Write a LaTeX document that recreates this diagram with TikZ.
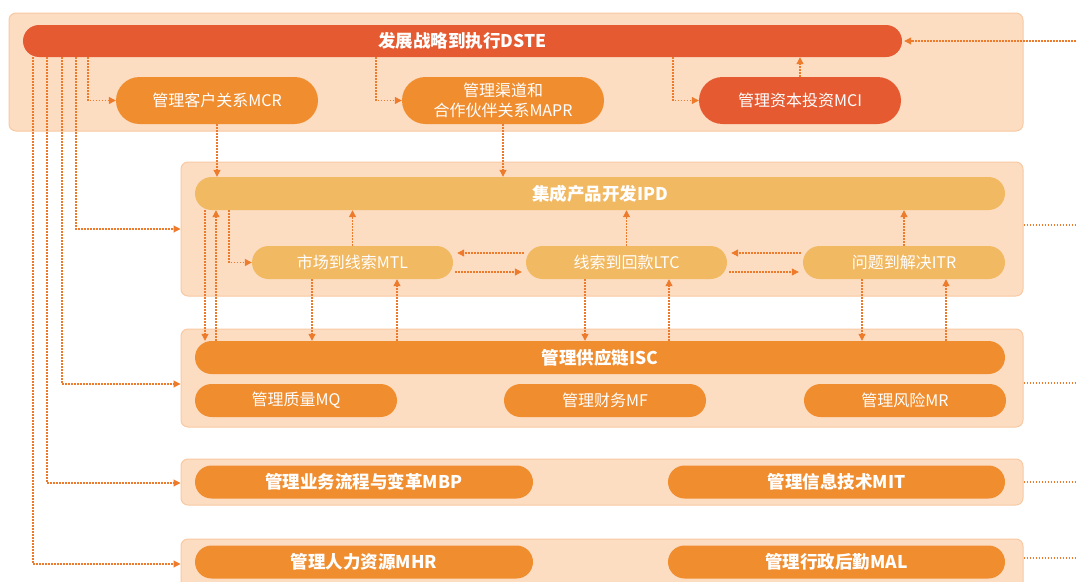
\documentclass[tikz,border=0pt]{standalone}
\usepackage{fontspec}
\setmainfont{Noto Sans CJK SC}
\usetikzlibrary{arrows.meta,calc}
\definecolor{grpfill}{HTML}{FCDDC2}
\definecolor{grpline}{HTML}{F8C9A2}
\definecolor{redC}{HTML}{E65A32}
\definecolor{orgC}{HTML}{F08D2F}
\definecolor{yelC}{HTML}{F2B963}
\definecolor{arrC}{HTML}{EE7B2C}
\begin{document}
\begin{tikzpicture}[x=1pt,y=-1pt,
  grp/.style={draw=grpline, fill=grpfill, line width=1pt, rounded corners=7pt, inner sep=0pt},
  pillbase/.style={inner sep=0pt, text=white, align=center},
  barB/.style={pillbase, font=\bfseries\fontsize{17.5}{20}\selectfont, minimum height=33pt, rounded corners=16.5pt},
  pillN/.style={pillbase, font=\fontsize{16}{19}\selectfont, minimum height=33pt, rounded corners=16.5pt},
  pillT/.style={pillbase, font=\fontsize{16}{20}\selectfont, minimum height=47pt, minimum width=202pt, rounded corners=23.5pt},
  conn/.style={draw=arrC, line width=1.1pt, dash pattern=on 1.6pt off 1.4pt, -{Triangle[length=7pt,width=7pt]}},
  side/.style={conn, shorten >=4pt, shorten <=2pt}]
\useasboundingbox (0,0) rectangle (1076,581);
\clip (0,0) rectangle (1076,581);

% group boxes
\node[grp, minimum width=1014pt, minimum height=118pt] (gtop) at (516,72) {};
\node[grp, minimum width=842pt, minimum height=134pt] (gipd) at (602,229) {};
\node[grp, minimum width=842pt, minimum height=98pt] (gisc) at (602,378) {};
\node[grp, minimum width=842pt, minimum height=46pt] (gmbp) at (602,482) {};
\node[grp, minimum width=842pt, minimum height=61pt] (gmhr) at (602,569.5) {};

% top row
\node[barB, fill=redC, minimum width=879pt, minimum height=32pt, rounded corners=16pt] (dste) at (462.5,41) {发展战略到执行DSTE};
\node[pillT, fill=orgC] (mcr) at (217,100.5) {管理客户关系MCR};
\node[pillT, fill=orgC] (mapr) at (503,100.5) {管理渠道和\\合作伙伴关系MAPR};
\node[pillT, fill=redC] (mci) at (800,100.5) {管理资本投资MCI};

% IPD group
\node[barB, fill=yelC, minimum width=810pt] (ipd) at (600,193.5) {集成产品开发IPD};
\node[pillN, fill=yelC, minimum width=201pt] (mtl) at (352.5,262.5) {市场到线索MTL};
\node[pillN, fill=yelC, minimum width=201pt] (ltc) at (626.5,262.5) {线索到回款LTC};
\node[pillN, fill=yelC, minimum width=202pt] (itr) at (904,262.5) {问题到解决ITR};

% ISC group
\node[barB, fill=orgC, minimum width=810pt] (isc) at (600,357.5) {管理供应链ISC};
\node[pillN, fill=orgC, minimum width=202pt] (mq) at (296,400.5) {管理质量MQ};
\node[pillN, fill=orgC, minimum width=202pt] (mf) at (605,400.5) {管理财务MF};
\node[pillN, fill=orgC, minimum width=202pt] (mr) at (905,400.5) {管理风险MR};

% MBP / MIT
\node[barB, fill=orgC, minimum width=338pt] (mbp) at (364,482) {管理业务流程与变革MBP};
\node[barB, fill=orgC, minimum width=337pt] (mit) at (836.5,482) {管理信息技术MIT};
% MHR / MAL
\node[barB, fill=orgC, minimum width=338pt] (mhr) at (364,562) {管理人力资源MHR};
\node[barB, fill=orgC, minimum width=337pt] (mal) at (836.5,562) {管理行政后勤MAL};

% helper coordinates
\coordinate (x33) at (33,0);
\coordinate (x47) at (47,0);
\coordinate (x62) at (62,0);
\coordinate (x76) at (76,0);
\coordinate (x88) at (88,0);
\coordinate (x376) at (376,0);
\coordinate (x673) at (673,0);
\coordinate (x205) at (205,0);
\coordinate (x216) at (216,0);
\coordinate (x229) at (229,0);
\coordinate (x312) at (312,0);
\coordinate (x397) at (397,0);
\coordinate (x585) at (585,0);
\coordinate (x669) at (669,0);
\coordinate (x862) at (862,0);
\coordinate (x946) at (946,0);
\coordinate (yu) at (0,253);
\coordinate (yl) at (0,272);
\coordinate (yisc) at (0,384);
\coordinate (ymbp) at (0,483);
\coordinate (ymhr) at (0,564);
\coordinate (rtop) at (1076,41);
\coordinate (ripd) at (1084,225);
\coordinate (risc) at (1084,383);
\coordinate (rmit) at (1084,482);
\coordinate (rmal) at (1084,558);

% top-row connectors
\draw[conn] (dste.south -| x88) |- (mcr.west);
\draw[conn] (dste.south -| x376) |- (mapr.west);
\draw[conn] (dste.south -| x673) |- (mci.west);
\draw[conn] (mci.north) -- (mci.north |- dste.south);
\draw[conn, shorten >=2pt] (rtop) -- (dste.east);

% left trunk lines
\draw[conn] (dste.south -| x76) |- (gipd.west);
\draw[conn] (dste.south -| x62) |- (gisc.west |- yisc);
\draw[conn] (dste.south -| x47) |- (gmbp.west |- ymbp);
\draw[conn] (dste.south -| x33) |- (gmhr.west |- ymhr);

% into IPD from top
\draw[conn] (mcr.south) -- (mcr.south |- ipd.north);
\draw[conn] (mapr.south) -- (mapr.south |- ipd.north);

% IPD internal
\draw[conn] (ipd.south -| x229) |- (mtl.west);
\draw[conn] (mtl.north) -- (mtl.north |- ipd.south);
\draw[conn] (ltc.north) -- (ltc.north |- ipd.south);
\draw[conn] (itr.north) -- (itr.north |- ipd.south);
\draw[side] (ltc.west |- yu) -- (mtl.east |- yu);
\draw[side] (mtl.east |- yl) -- (ltc.west |- yl);
\draw[side] (itr.west |- yu) -- (ltc.east |- yu);
\draw[side] (ltc.east |- yl) -- (itr.west |- yl);

% IPD <-> ISC
\draw[conn] (ipd.south -| x205) -- (isc.north -| x205);
\draw[conn] (isc.north -| x216) -- (ipd.south -| x216);
\draw[conn] (mtl.south -| x312) -- (isc.north -| x312);
\draw[conn] (isc.north -| x397) -- (mtl.south -| x397);
\draw[conn] (ltc.south -| x585) -- (isc.north -| x585);
\draw[conn] (isc.north -| x669) -- (ltc.south -| x669);
\draw[conn] (itr.south -| x862) -- (isc.north -| x862);
\draw[conn] (isc.north -| x946) -- (itr.south -| x946);

% right-side outgoing
\draw[conn] (gipd.east |- ripd) -- (ripd);
\draw[conn] (gisc.east |- risc) -- (risc);
\draw[conn] (gmbp.east |- rmit) -- (rmit);
\draw[conn] (gmhr.east |- rmal) -- (rmal);
\end{tikzpicture}
\end{document}
